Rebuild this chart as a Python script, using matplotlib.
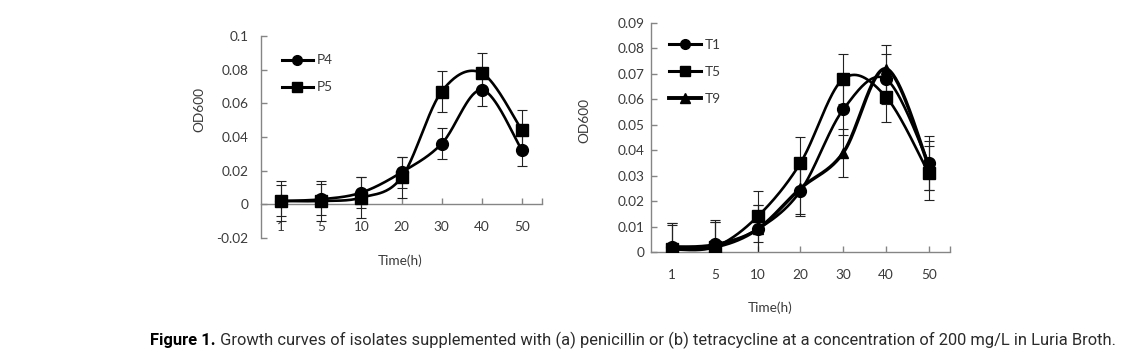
import numpy as np
import matplotlib
matplotlib.use("Agg")
import matplotlib.pyplot as plt
from matplotlib.lines import Line2D

# ---------------- data ----------------
times = ["1", "5", "10", "20", "30", "40", "50"]

p4 = [0.002, 0.003, 0.007, 0.019, 0.036, 0.068, 0.032]
p4_err = [0.0092, 0.0092, 0.0092, 0.0092, 0.0092, 0.0098, 0.0094]
p5 = [0.002, 0.002, 0.004, 0.016, 0.067, 0.078, 0.044]
p5_err = [0.012, 0.012, 0.012, 0.012, 0.012, 0.012, 0.012]

t1 = [0.002, 0.003, 0.009, 0.024, 0.056, 0.068, 0.035]
t1_err = [0.0095, 0.0097, 0.0095, 0.0100, 0.0100, 0.0100, 0.0105]
t5 = [0.001, 0.002, 0.014, 0.035, 0.068, 0.061, 0.031]
t5_err = [0.0095, 0.0097, 0.0100, 0.0100, 0.0100, 0.0100, 0.0107]
t9 = [0.002, 0.002, 0.009, 0.025, 0.039, 0.072, 0.034]
t9_err = [0.0095, 0.0097, 0.0095, 0.0100, 0.0095, 0.0095, 0.0095]

caption_bold = "Figure 1."
caption_rest = (" Growth curves of isolates supplemented with (a) penicillin or (b) "
                "tetracycline at a concentration of 200 mg/L in Luria Broth.")

# ---------------- helpers ----------------
TXT = "#3a3a3a"
AX = "#858585"
FONT = ["Lato", "DejaVu Sans"]
FS = 9.8


def smooth(y, n=40):
    """Excel-like smoothed line (Catmull-Rom Bezier) in category-index space."""
    P = np.column_stack([np.arange(len(y), dtype=float), np.asarray(y, float)])
    out = []
    for i in range(len(P) - 1):
        p0 = P[i - 1] if i > 0 else P[i]
        p1, p2 = P[i], P[i + 1]
        p3 = P[i + 2] if i + 2 < len(P) else P[i + 1]
        c1 = p1 + (p2 - p0) / 6.0
        c2 = p2 - (p3 - p1) / 6.0
        t = np.linspace(0, 1, n)[:, None]
        seg = ((1 - t) ** 3) * p1 + 3 * ((1 - t) ** 2) * t * c1 + 3 * (1 - t) * t ** 2 * c2 + t ** 3 * p2
        out.append(seg if i == 0 else seg[1:])
    s = np.vstack(out)
    return s[:, 0], s[:, 1]


def style_axes(ax, ylim, yticks, yfmt, ypad):
    n = len(times)
    ax.set_xlim(-0.5, n - 0.5)
    ax.set_ylim(*ylim)
    for s in ("top", "right"):
        ax.spines[s].set_visible(False)
    ax.spines["bottom"].set_position(("data", 0))
    for s in ("left", "bottom"):
        ax.spines[s].set_color(AX)
        ax.spines[s].set_linewidth(1.0)
    ax.set_xticks(range(n))
    ax.set_xticklabels(times)
    ax.set_xticks([n - 0.5], minor=True)
    ax.set_yticks(yticks)
    ax.set_yticklabels([yfmt(v) for v in yticks])
    ax.tick_params(axis="x", which="both", direction="in", length=4, width=1,
                   color=AX, pad=12, labelsize=FS, labelcolor=TXT)
    ax.tick_params(axis="y", direction="in", length=4.5, width=1, color=AX,
                   pad=ypad, labelsize=FS, labelcolor=TXT)
    for lab in ax.get_xticklabels() + ax.get_yticklabels():
        lab.set_family(FONT)


def draw_series(ax, y, err, marker, ms, lw=1.9):
    x = np.arange(len(y))
    ax.errorbar(x, y, yerr=err, fmt="none", ecolor="#222222", elinewidth=0.8,
                capsize=3.5, capthick=0.8, zorder=2)
    sx, sy = smooth(y)
    ax.plot(sx, sy, color="black", lw=lw, zorder=3, solid_capstyle="round")
    ax.plot(x, y, linestyle="none", marker=marker, ms=ms, color="black", zorder=4)


fig = plt.figure(figsize=(11.28, 3.62), dpi=100)
fig.patch.set_facecolor("white")

# ---------------- left chart (penicillin) ----------------
axL = fig.add_axes([0.2314, 0.3425, 0.2491, 0.558])
draw_series(axL, p4, p4_err, "o", 8.5)
draw_series(axL, p5, p5_err, "s", 8.5)
style_axes(axL, (-0.02, 0.1), [-0.02, 0, 0.02, 0.04, 0.06, 0.08, 0.1],
           lambda v: ("0" if abs(v) < 1e-12 else f"{v:g}"), 9)
axL.set_ylabel("OD600", fontsize=FS, color=TXT, family=FONT)
axL.yaxis.set_label_coords(-0.199, 0.634)
axL.set_xlabel("Time(h)", fontsize=FS, color=TXT, family=FONT)
axL.xaxis.set_label_coords(0.495, -0.08)
hL = [Line2D([], [], color="black", lw=2.2, marker="o", ms=7),
      Line2D([], [], color="black", lw=2.2, marker="s", ms=7)]
legL = axL.legend(hL, ["P4", "P5"], loc="upper left", bbox_to_anchor=(0.03, 0.97),
                  frameon=False, handlelength=2.3, handletextpad=0.3,
                  labelspacing=1.1, prop={"family": FONT, "size": FS})
for t in legL.get_texts():
    t.set_color(TXT)

# ---------------- right chart (tetracycline) ----------------
axR = fig.add_axes([0.5771, 0.3039, 0.2651, 0.6326])
draw_series(axR, t1, t1_err, "o", 8.5)
draw_series(axR, t5, t5_err, "s", 8.5)
draw_series(axR, t9, t9_err, "^", 7.5, lw=2.5)
style_axes(axR, (0, 0.09), [0, 0.01, 0.02, 0.03, 0.04, 0.05, 0.06, 0.07, 0.08, 0.09],
           lambda v: ("0" if abs(v) < 1e-12 else f"{v:.2f}"), 4.5)
axR.set_ylabel("OD600", fontsize=FS, color=TXT, family=FONT)
axR.yaxis.set_label_coords(-0.204, 0.576)
axR.set_xlabel("Time(h)", fontsize=FS, color=TXT, family=FONT)
axR.xaxis.set_label_coords(0.398, -0.214)
hR = [Line2D([], [], color="black", lw=2.2, marker="o", ms=7),
      Line2D([], [], color="black", lw=2.2, marker="s", ms=7),
      Line2D([], [], color="black", lw=2.8, marker="^", ms=7)]
legR = axR.legend(hR, ["T1", "T5", "T9"], loc="upper left", bbox_to_anchor=(0.02, 0.985),
                  frameon=False, handlelength=2.3, handletextpad=0.3,
                  labelspacing=1.1, prop={"family": FONT, "size": FS})
for t in legR.get_texts():
    t.set_color(TXT)

# ---------------- caption ----------------
cap_family = ["Liberation Sans Narrow", "Roboto", "DejaVu Sans"]
fig.canvas.draw()
renderer = fig.canvas.get_renderer()
target_w = 1118 - 150
cy = 1 - 340 / 362


def caption_width(fs):
    a = fig.text(0, cy, caption_bold, fontsize=fs, fontweight="bold", family=cap_family)
    b = fig.text(0, cy, caption_rest, fontsize=fs, family=cap_family)
    w = a.get_window_extent(renderer).width + b.get_window_extent(renderer).width
    a.remove()
    b.remove()
    return w


fs = 11.0
for _ in range(3):
    fs *= target_w / caption_width(fs)

tb = fig.text(150 / 1128, cy, caption_bold, fontsize=fs, fontweight="bold",
              family=cap_family, color="black", va="center", ha="left")
bb = tb.get_window_extent(renderer)
fig.text(bb.x1 / 1128, cy, caption_rest, fontsize=fs, family=cap_family,
         color="#2b2b2b", va="center", ha="left")

fig.savefig("out.png", dpi=100, facecolor="white")
